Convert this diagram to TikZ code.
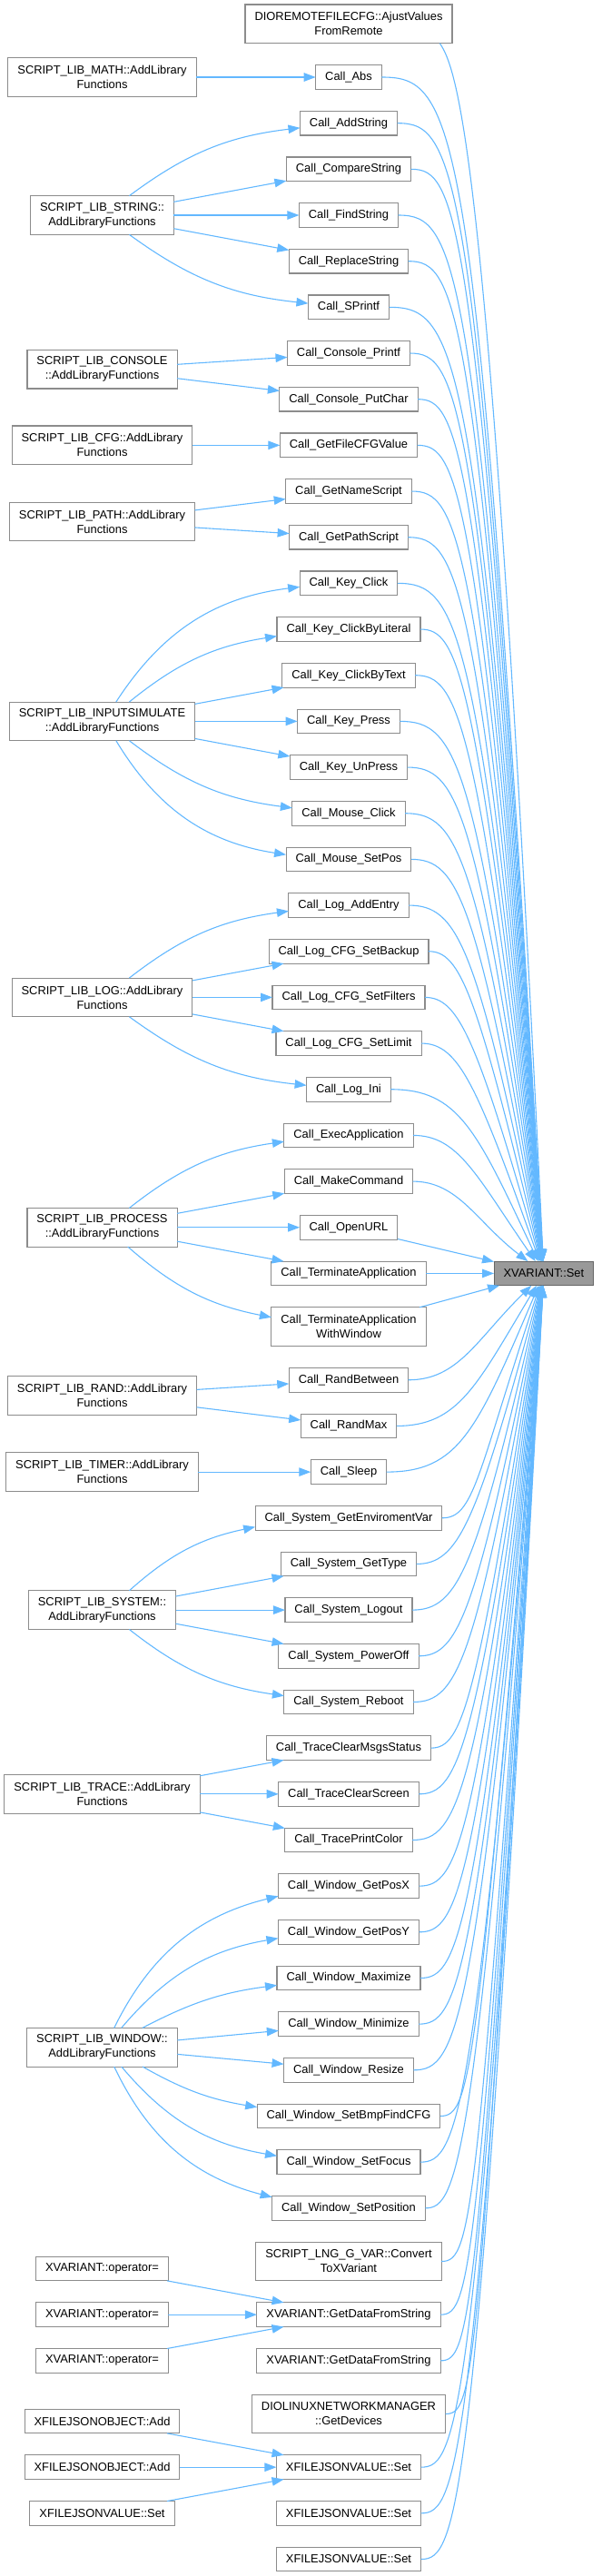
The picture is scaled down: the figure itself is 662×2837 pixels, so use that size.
\documentclass[tikz,border=0pt]{standalone}
\usepackage{fontspec}
\setmainfont{Liberation Sans}
\usepackage{tikz}
\usetikzlibrary{arrows.meta,positioning,calc}
\definecolor{edgeblue}{HTML}{63B8FF}
\definecolor{boxgray}{HTML}{8C8C8C}
\definecolor{curgray}{HTML}{999999}
\tikzset{
  fn/.style={draw=boxgray, line width=1.1pt, fill=white, align=center,
    inner xsep=10.5pt, inner ysep=2pt, outer sep=0pt, minimum height=26.67pt,
    font=\fontsize{12.9}{16}\selectfont},
  fntwo/.style={fn, minimum height=42.67pt},
  cur/.style={fn, draw=black!60, fill=curgray},
  call/.style={-{Triangle[length=13pt, width=9.5pt]}, draw=edgeblue, line width=1.1pt}
}

\begin{document}
\begin{tikzpicture}[x=1pt, y=1pt, node distance=24pt]
  \useasboundingbox (0,0) rectangle (662,-2837);
  \coordinate (lcol) at (112.5,0);

  \node[fntwo] (dio) at (384,-26.33) {DIOREMOTEFILECFG::AjustValues\\FromRemote};
  \node[fn, below=of dio] (abs) {Call\_Abs};
  \node[fn, below=of abs] (addstr) {Call\_AddString};
  \node[fn, below=of addstr] (cmpstr) {Call\_CompareString};
  \node[fn, below=of cmpstr] (findstr) {Call\_FindString};
  \node[fn, below=of findstr] (replstr) {Call\_ReplaceString};
  \node[fn, below=of replstr] (sprintf) {Call\_SPrintf};
  \node[fn, below=of sprintf] (conprintf) {Call\_Console\_Printf};
  \node[fn, below=of conprintf] (conputchar) {Call\_Console\_PutChar};
  \node[fn, below=of conputchar] (getcfg) {Call\_GetFileCFGValue};
  \node[fn, below=of getcfg] (getname) {Call\_GetNameScript};
  \node[fn, below=of getname] (getpath) {Call\_GetPathScript};
  \node[fn, below=of getpath] (keyclick) {Call\_Key\_Click};
  \node[fn, below=of keyclick] (keylit) {Call\_Key\_ClickByLiteral};
  \node[fn, below=of keylit] (keytext) {Call\_Key\_ClickByText};
  \node[fn, below=of keytext] (keypress) {Call\_Key\_Press};
  \node[fn, below=of keypress] (keyunpress) {Call\_Key\_UnPress};
  \node[fn, below=of keyunpress] (mclick) {Call\_Mouse\_Click};
  \node[fn, below=of mclick] (msetpos) {Call\_Mouse\_SetPos};
  \node[fn, below=of msetpos] (logadd) {Call\_Log\_AddEntry};
  \node[fn, below=of logadd] (logbackup) {Call\_Log\_CFG\_SetBackup};
  \node[fn, below=of logbackup] (logfilters) {Call\_Log\_CFG\_SetFilters};
  \node[fn, below=of logfilters] (loglimit) {Call\_Log\_CFG\_SetLimit};
  \node[fn, below=of loglimit] (logini) {Call\_Log\_Ini};
  \node[fn, below=of logini] (exec) {Call\_ExecApplication};
  \node[fn, below=of exec] (makecmd) {Call\_MakeCommand};
  \node[fn, below=of makecmd] (openurl) {Call\_OpenURL};
  \node[fn, below=of openurl] (term) {Call\_TerminateApplication};
  \node[fntwo, below=of term] (termwin) {Call\_TerminateApplication\\WithWindow};
  \node[fn, below=of termwin] (randbetw) {Call\_RandBetween};
  \node[fn, below=of randbetw] (randmax) {Call\_RandMax};
  \node[fn, below=of randmax] (sleep) {Call\_Sleep};
  \node[fn, below=of sleep] (envvar) {Call\_System\_GetEnviromentVar};
  \node[fn, below=of envvar] (systype) {Call\_System\_GetType};
  \node[fn, below=of systype] (logout) {Call\_System\_Logout};
  \node[fn, below=of logout] (poweroff) {Call\_System\_PowerOff};
  \node[fn, below=of poweroff] (reboot) {Call\_System\_Reboot};
  \node[fn, below=of reboot] (trmsgs) {Call\_TraceClearMsgsStatus};
  \node[fn, below=of trmsgs] (trscreen) {Call\_TraceClearScreen};
  \node[fn, below=of trscreen] (trcolor) {Call\_TracePrintColor};
  \node[fn, below=of trcolor] (wposx) {Call\_Window\_GetPosX};
  \node[fn, below=of wposx] (wposy) {Call\_Window\_GetPosY};
  \node[fn, below=of wposy] (wmax) {Call\_Window\_Maximize};
  \node[fn, below=of wmax] (wmin) {Call\_Window\_Minimize};
  \node[fn, below=of wmin] (wresize) {Call\_Window\_Resize};
  \node[fn, below=of wresize] (wbmp) {Call\_Window\_SetBmpFindCFG};
  \node[fn, below=of wbmp] (wfocus) {Call\_Window\_SetFocus};
  \node[fn, below=of wfocus] (wpos) {Call\_Window\_SetPosition};
  \node[fntwo, below=of wpos] (cvt) {SCRIPT\_LNG\_G\_VAR::Convert\\ToXVariant};
  \node[fn, below=of cvt] (gdfsa) {XVARIANT::GetDataFromString};
  \node[fn, below=of gdfsa] (gdfsb) {XVARIANT::GetDataFromString};
  \node[fntwo, below=of gdfsb] (netdev) {DIOLINUXNETWORKMANAGER\\::GetDevices};
  \node[fn, below=of netdev] (jsa) {XFILEJSONVALUE::Set};
  \node[fn, below=of jsa] (jsb) {XFILEJSONVALUE::Set};
  \node[fn, below=of jsb] (jsc) {XFILEJSONVALUE::Set};

  \node[cur, right=75pt of term] (set) {XVARIANT::Set};

  \node[fntwo] (lmath) at (lcol |- abs) {SCRIPT\_LIB\_MATH::AddLibrary\\Functions};
  \node[fntwo] (lstring) at (lcol |- findstr) {SCRIPT\_LIB\_STRING::\\AddLibraryFunctions};
  \node[fntwo] (lconsole) at (112.5,-406.7) {SCRIPT\_LIB\_CONSOLE\\::AddLibraryFunctions};
  \node[fntwo] (lcfg) at (lcol |- getcfg) {SCRIPT\_LIB\_CFG::AddLibrary\\Functions};
  \node[fntwo] (lpath) at (112.5,-574.5) {SCRIPT\_LIB\_PATH::AddLibrary\\Functions};
  \node[fntwo] (linput) at (lcol |- keypress) {SCRIPT\_LIB\_INPUTSIMULATE\\::AddLibraryFunctions};
  \node[fntwo] (llog) at (lcol |- logfilters) {SCRIPT\_LIB\_LOG::AddLibrary\\Functions};
  \node[fntwo] (lproc) at (lcol |- openurl) {SCRIPT\_LIB\_PROCESS\\::AddLibraryFunctions};
  \node[fntwo] (lrand) at (112.5,-1537) {SCRIPT\_LIB\_RAND::AddLibrary\\Functions};
  \node[fntwo] (ltimer) at (lcol |- sleep) {SCRIPT\_LIB\_TIMER::AddLibrary\\Functions};
  \node[fntwo] (lsys) at (lcol |- logout) {SCRIPT\_LIB\_SYSTEM::\\AddLibraryFunctions};
  \node[fntwo] (ltrace) at (lcol |- trscreen) {SCRIPT\_LIB\_TRACE::AddLibrary\\Functions};
  \node[fntwo] (lwin) at (112.5,-2254.7) {SCRIPT\_LIB\_WINDOW::\\AddLibraryFunctions};
  \node[fn] (opb) at (lcol |- gdfsa) {XVARIANT::operator=};
  \node[fn, above=of opb] (opa) {XVARIANT::operator=};
  \node[fn] (opc) at (lcol |- gdfsb) {XVARIANT::operator=};
  \node[fn] (job) at (lcol |- jsa) {XFILEJSONOBJECT::Add};
  \node[fn, above=of job] (joa) {XFILEJSONOBJECT::Add};
  \node[fn] (jvs) at (lcol |- jsb) {XFILEJSONVALUE::Set};

  \foreach \a/\b in {lmath/abs, lstring/cmpstr, lstring/findstr, lstring/replstr,
      lconsole/conprintf, lconsole/conputchar, lcfg/getcfg, lpath/getname, lpath/getpath,
      linput/keytext, linput/keypress, linput/keyunpress, llog/logbackup, llog/logfilters,
      llog/loglimit, lproc/makecmd, lproc/openurl, lproc/term, lrand/randbetw, lrand/randmax,
      ltimer/sleep, lsys/systype, lsys/logout, lsys/poweroff, ltrace/trmsgs, ltrace/trscreen,
      ltrace/trcolor, lwin/wmin, lwin/wresize, opa/gdfsa, opb/gdfsa, opc/gdfsa,
      joa/jsa, job/jsa, jvs/jsa, openurl/set, term/set, termwin/set}
    \draw[call] (\a) -- (\b);
  \foreach \a/\b/\k in {lstring/addstr/15, linput/keyclick/25, linput/keylit/15,
      llog/logadd/15, lproc/exec/15, lsys/envvar/15, lwin/wposx/25, lwin/wposy/20, lwin/wmax/10}
    \draw[call] (\a) to[bend left=\k] (\b);
  \foreach \a/\b/\k in {lstring/sprintf/15, linput/mclick/15, linput/msetpos/25,
      llog/logini/15, lproc/termwin/15, lsys/reboot/15, lwin/wbmp/10, lwin/wfocus/20, lwin/wpos/25}
    \draw[call] (\a) to[bend right=\k] (\b);

  \draw[call] (dio.-12) .. controls +(20,-30) and (540,-170) .. (set);
  \foreach \f in {abs, addstr, cmpstr, findstr, replstr, sprintf, conprintf, conputchar,
      getcfg, getname, getpath, keyclick, keylit, keytext, keypress, keyunpress, mclick,
      msetpos, logadd, logbackup, logfilters, loglimit, logini, exec, makecmd}
    \draw[call] let \p1=(\f.east) in (\p1) .. controls ({max(\x1+35pt,505pt)},\y1)
      and (525pt,\y1-45pt) .. (set);
  \foreach \f in {randbetw, randmax, sleep, envvar, systype, logout, poweroff, reboot,
      trmsgs, trscreen, trcolor, wposx, wposy, wmax, wmin, wresize, wbmp, wfocus, wpos,
      cvt, gdfsa, gdfsb, netdev, jsa, jsb, jsc}
    \draw[call] let \p1=(\f.east) in (\p1) .. controls ({max(\x1+35pt,505pt)},\y1)
      and (525pt,\y1+45pt) .. (set);
\end{tikzpicture}
\end{document}
